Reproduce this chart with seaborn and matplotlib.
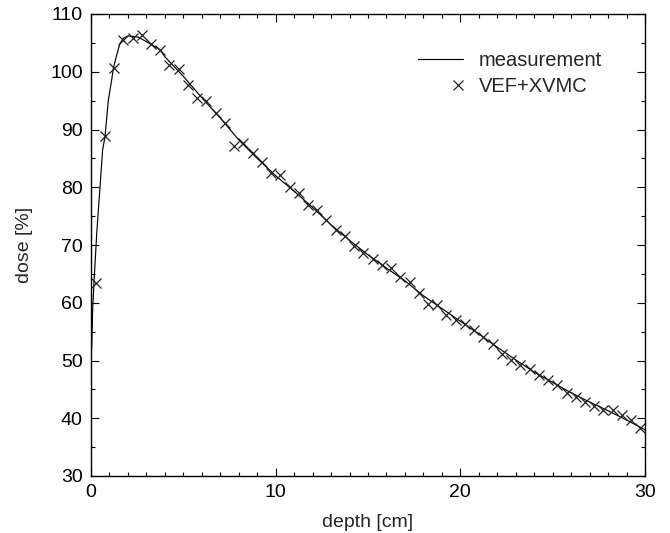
import matplotlib
matplotlib.use("Agg")
import matplotlib.pyplot as plt
import seaborn as sns
import pandas as pd
import numpy as np
from matplotlib.lines import Line2D
from matplotlib.legend_handler import HandlerBase
from matplotlib.ticker import MultipleLocator

meas_depth = [0.0, 0.04, 0.09, 0.16, 0.31, 0.49, 0.63, 0.76, 0.94, 1.12, 1.21, 1.39, 1.57,
              1.75, 2.02, 2.29, 2.56, 3.01, 3.74, 4.0, 5.0, 6.0, 7.0, 8.0, 9.0, 10.0,
              11.0, 12.0, 13.0, 14.0, 15.0, 16.0, 17.0, 18.0, 19.0, 20.0, 21.0, 22.0,
              23.0, 24.0, 25.0, 26.0, 27.0, 28.0, 29.0, 30.0]
meas_dose = [50.0, 52.4, 58.7, 63.4, 72.0, 80.1, 86.5, 88.8, 95.1, 98.6, 100.6, 102.9, 104.9,
             105.8, 106.2, 106.1, 106.0, 105.2, 103.8, 102.6, 99.2, 95.5, 92.0, 88.2, 85.0, 82.0,
             79.3, 76.5, 73.5, 70.8, 68.3, 66.0, 63.8, 61.2, 59.0, 56.8, 54.6, 52.3,
             50.1, 48.0, 46.2, 44.4, 42.8, 41.3, 39.7, 38.0]

# VEF+XVMC calculation (crosses)
calc_depth = [0.25, 0.75, 1.25, 1.75, 2.25, 2.75, 3.25, 3.75, 4.25, 4.75, 5.25, 5.75, 6.25,
              6.75, 7.25, 7.75, 8.25, 8.75, 9.25, 9.75, 10.25, 10.75, 11.25, 11.75, 12.25,
              12.75, 13.25, 13.75, 14.25, 14.75, 15.25, 15.75, 16.25, 16.75, 17.25, 17.75,
              18.25, 18.75, 19.25, 19.75, 20.25, 20.75, 21.25, 21.75, 22.25, 22.75, 23.25,
              23.75, 24.25, 24.75, 25.25, 25.75, 26.25, 26.75, 27.25, 27.75, 28.25, 28.75,
              29.25, 29.75]
calc_dose = [63.4, 88.8, 100.6, 105.5, 105.9, 106.4, 104.8, 103.8, 101.2, 100.5, 97.7, 95.5, 95.0,
             92.8, 91.2, 87.1, 87.6, 85.9, 84.4, 82.4, 82.1, 80.0, 79.0, 76.9, 76.1,
             74.3, 72.6, 71.6, 69.8, 68.6, 67.5, 66.5, 66.0, 64.4, 63.6, 61.7,
             59.8, 59.6, 57.9, 57.0, 56.3, 55.2, 54.0, 52.8, 51.2, 50.1, 49.3,
             48.6, 47.5, 46.7, 45.8, 44.4, 43.7, 42.9, 42.1, 41.5, 41.5, 40.6,
             39.7, 38.3]

x_ticks = [0, 10, 20, 30]
y_ticks = [30, 40, 50, 60, 70, 80, 90, 100, 110]

sns.set_theme(style="white")
plt.rcParams['font.family'] = ['Liberation Sans', 'DejaVu Sans']

fig = plt.figure(figsize=(6.7, 5.33), dpi=100)
ax = fig.add_axes([91/670, 1-476/533, (645-91)/670, (476-14)/533])

meas = pd.DataFrame({"depth": meas_depth, "dose": meas_dose})
calc = pd.DataFrame({"depth": calc_depth, "dose": calc_dose})

sns.lineplot(data=meas, x="depth", y="dose", ax=ax, color="black", linewidth=0.85,
             estimator=None, sort=False)
sns.lineplot(data=calc, x="depth", y="dose", ax=ax, color="#222222", linestyle="",
             marker="x", markersize=7, markeredgewidth=0.9, markeredgecolor="#222222",
             estimator=None, sort=False)

ax.set_xlim(0, 30)
ax.set_ylim(30, 110)
ax.set_xticks(x_ticks)
ax.set_yticks(y_ticks)
ax.xaxis.set_minor_locator(MultipleLocator(1))
ax.yaxis.set_minor_locator(MultipleLocator(5))
ax.tick_params(which="both", direction="in", top=True, right=True, bottom=True, left=True,
               labelsize=14, colors="black", width=0.8)
ax.tick_params(which="major", length=6, pad=6)
ax.tick_params(which="minor", length=3)
for s in ax.spines.values():
    s.set_color("black")
    s.set_linewidth(1.0)

ax.set_xlabel("depth [cm]", fontsize=14, labelpad=9)
ax.set_ylabel("dose [%]", fontsize=14, labelpad=12)


class RightMarkerHandler(HandlerBase):
    def create_artists(self, legend, orig_handle, xdescent, ydescent, width, height,
                       fontsize, trans):
        x = width - xdescent - 3
        y = height / 2 - ydescent
        m = Line2D([x], [y], linestyle="", marker=orig_handle.get_marker(),
                   markersize=orig_handle.get_markersize(),
                   markeredgewidth=orig_handle.get_markeredgewidth(),
                   color=orig_handle.get_color(), transform=trans)
        return [m]


h1 = Line2D([0, 1], [0, 0], color="black", linewidth=0.85)
h2 = Line2D([0, 1], [0, 0], color="#222222", linestyle="", marker="x", markersize=7,
            markeredgewidth=0.9)
ax.legend([h1, h2], ["measurement", "VEF+XVMC"], loc="upper right", frameon=False,
          fontsize=14.5, handlelength=2.2, handletextpad=0.8,
          bbox_to_anchor=(0.955, 0.96), labelspacing=0.35,
          handler_map={h2: RightMarkerHandler()})

fig.savefig("out.png", dpi=100)
